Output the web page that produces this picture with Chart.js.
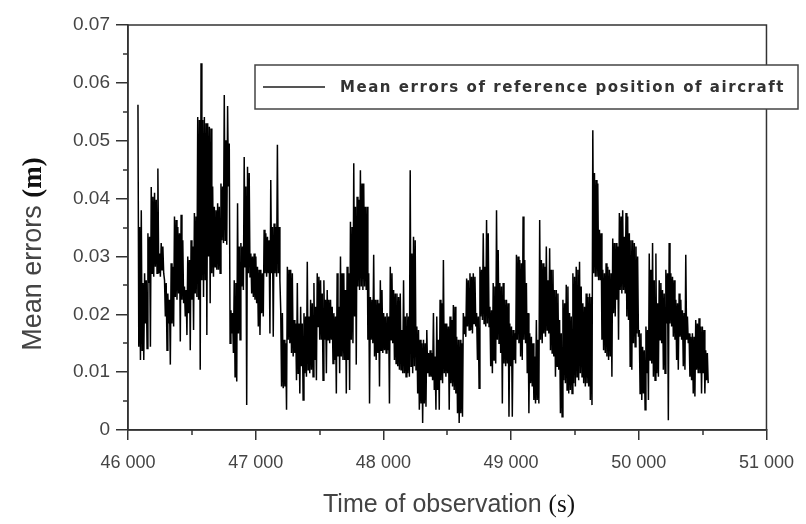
<!DOCTYPE html>
<html>
<head>
<meta charset="utf-8">
<script src="https://cdn.jsdelivr.net/npm/chart.js@4.4.0/dist/chart.umd.min.js"></script>
<style>
  html, body { margin: 0; padding: 0; background: #fff; }
</style>
</head>
<body>
<canvas id="myChart" width="806" height="524"></canvas>
<script>
// sampling of the record (s)
const firstTime = 46078;
const sampleStep = 6.5;

// mean errors (m) in time order, split in chunks of ~780 s
const errorsPart1 = [ // ~46078 - 46780
  0.0562, 0.0144, 0.0351, 0.0121, 0.0380, 0.0138, 0.0254, 0.0121,
  0.0271, 0.0184, 0.0259, 0.0141, 0.0340, 0.0254, 0.0334, 0.0144,
  0.0420, 0.0271, 0.0403, 0.0265, 0.0410, 0.0282, 0.0398, 0.0271,
  0.0452, 0.0271, 0.0305, 0.0265, 0.0323, 0.0277, 0.0317, 0.0271,
  0.0259, 0.0196, 0.0254, 0.0138, 0.0236, 0.0184, 0.0225, 0.0113,
  0.0288, 0.0184, 0.0282, 0.0179, 0.0369, 0.0230, 0.0363, 0.0225,
  0.0351, 0.0236, 0.0340, 0.0153, 0.0372, 0.0225, 0.0328, 0.0219,
  0.0248, 0.0196, 0.0242, 0.0164, 0.0300, 0.0202, 0.0294, 0.0138,
  0.0328, 0.0225, 0.0317, 0.0173, 0.0375, 0.0236, 0.0369, 0.0230,
  0.0541, 0.0225, 0.0536, 0.0104, 0.0634, 0.0259, 0.0536, 0.0230,
  0.0541, 0.0259, 0.0530, 0.0164, 0.0530, 0.0300, 0.0524, 0.0219,
  0.0521, 0.0271, 0.0421, 0.0265, 0.0386, 0.0282, 0.0380, 0.0277,
  0.0392, 0.0277, 0.0386, 0.0271, 0.0426, 0.0328, 0.0421, 0.0323,
  0.0579, 0.0328, 0.0501, 0.0320
];
const errorsPart2 = [ // ~46780 - 47560
  0.0560, 0.0421, 0.0495, 0.0150, 0.0207, 0.0167, 0.0202, 0.0133,
  0.0259, 0.0092, 0.0254, 0.0084, 0.0392, 0.0167, 0.0317, 0.0156,
  0.0323, 0.0248, 0.0317, 0.0242, 0.0472, 0.0282, 0.0421, 0.0043,
  0.0455, 0.0271, 0.0444, 0.0265, 0.0305, 0.0236, 0.0300, 0.0230,
  0.0305, 0.0225, 0.0300, 0.0219, 0.0282, 0.0179, 0.0277, 0.0164,
  0.0277, 0.0202, 0.0271, 0.0196, 0.0346, 0.0271, 0.0340, 0.0265,
  0.0334, 0.0271, 0.0328, 0.0167, 0.0432, 0.0271, 0.0351, 0.0161,
  0.0357, 0.0271, 0.0351, 0.0265, 0.0493, 0.0271, 0.0351, 0.0259,
  0.0207, 0.0075, 0.0202, 0.0072, 0.0156, 0.0075, 0.0150, 0.0035,
  0.0282, 0.0156, 0.0277, 0.0150, 0.0277, 0.0133, 0.0271, 0.0127,
  0.0190, 0.0133, 0.0184, 0.0086, 0.0254, 0.0098, 0.0184, 0.0063,
  0.0213, 0.0110, 0.0184, 0.0052, 0.0202, 0.0098, 0.0196, 0.0092,
  0.0291, 0.0104, 0.0196, 0.0098, 0.0225, 0.0104, 0.0219, 0.0092,
  0.0254, 0.0121, 0.0213, 0.0086, 0.0271, 0.0179, 0.0265, 0.0156,
  0.0259, 0.0156, 0.0236, 0.0086, 0.0259, 0.0156, 0.0225, 0.0098
];
const errorsPart3 = [ // ~47560 - 48340
  0.0242, 0.0156, 0.0225, 0.0150, 0.0225, 0.0156, 0.0213, 0.0115,
  0.0202, 0.0121, 0.0196, 0.0063, 0.0271, 0.0127, 0.0213, 0.0098,
  0.0300, 0.0127, 0.0271, 0.0121, 0.0271, 0.0121, 0.0242, 0.0063,
  0.0282, 0.0121, 0.0271, 0.0069, 0.0360, 0.0156, 0.0351, 0.0150,
  0.0461, 0.0196, 0.0386, 0.0113, 0.0403, 0.0248, 0.0398, 0.0242,
  0.0449, 0.0248, 0.0426, 0.0242, 0.0426, 0.0248, 0.0386, 0.0242,
  0.0386, 0.0156, 0.0271, 0.0046, 0.0230, 0.0156, 0.0225, 0.0150,
  0.0303, 0.0127, 0.0225, 0.0121, 0.0225, 0.0133, 0.0219, 0.0075,
  0.0259, 0.0138, 0.0242, 0.0133, 0.0202, 0.0138, 0.0196, 0.0133,
  0.0202, 0.0138, 0.0196, 0.0046, 0.0282, 0.0156, 0.0271, 0.0150,
  0.0242, 0.0121, 0.0236, 0.0115, 0.0236, 0.0110, 0.0230, 0.0104,
  0.0236, 0.0104, 0.0173, 0.0098, 0.0259, 0.0098, 0.0196, 0.0092,
  0.0202, 0.0098, 0.0196, 0.0092, 0.0449, 0.0110, 0.0305, 0.0098,
  0.0334, 0.0110, 0.0328, 0.0104, 0.0179, 0.0063, 0.0173, 0.0035,
  0.0156, 0.0046, 0.0150, 0.0012, 0.0156, 0.0046, 0.0150, 0.0040
];
const errorsPart4 = [ // ~48340 - 49120
  0.0173, 0.0098, 0.0133, 0.0092, 0.0138, 0.0092, 0.0133, 0.0086,
  0.0202, 0.0069, 0.0127, 0.0035, 0.0196, 0.0069, 0.0156, 0.0035,
  0.0225, 0.0086, 0.0219, 0.0081, 0.0294, 0.0098, 0.0184, 0.0092,
  0.0184, 0.0098, 0.0179, 0.0035, 0.0196, 0.0081, 0.0190, 0.0075,
  0.0216, 0.0069, 0.0213, 0.0063, 0.0161, 0.0029, 0.0156, 0.0012,
  0.0156, 0.0029, 0.0150, 0.0023, 0.0202, 0.0167, 0.0196, 0.0161,
  0.0262, 0.0179, 0.0259, 0.0173, 0.0271, 0.0173, 0.0265, 0.0167,
  0.0271, 0.0184, 0.0265, 0.0179, 0.0202, 0.0121, 0.0196, 0.0072,
  0.0282, 0.0196, 0.0277, 0.0190, 0.0340, 0.0184, 0.0282, 0.0179,
  0.0363, 0.0184, 0.0340, 0.0179, 0.0213, 0.0110, 0.0207, 0.0098,
  0.0254, 0.0121, 0.0248, 0.0115, 0.0380, 0.0156, 0.0311, 0.0150,
  0.0254, 0.0133, 0.0248, 0.0046, 0.0254, 0.0115, 0.0225, 0.0110,
  0.0225, 0.0115, 0.0219, 0.0023, 0.0184, 0.0110, 0.0179, 0.0023,
  0.0173, 0.0121, 0.0167, 0.0115, 0.0303, 0.0156, 0.0300, 0.0150,
  0.0294, 0.0127, 0.0288, 0.0121, 0.0369, 0.0156, 0.0294, 0.0150
];
const errorsPart5 = [ // ~49120 - 49900
  0.0254, 0.0098, 0.0202, 0.0029, 0.0167, 0.0081, 0.0161, 0.0075,
  0.0150, 0.0052, 0.0127, 0.0046, 0.0190, 0.0052, 0.0156, 0.0046,
  0.0363, 0.0156, 0.0294, 0.0150, 0.0288, 0.0167, 0.0282, 0.0161,
  0.0317, 0.0173, 0.0259, 0.0167, 0.0314, 0.0138, 0.0277, 0.0133,
  0.0277, 0.0127, 0.0242, 0.0092, 0.0242, 0.0110, 0.0236, 0.0104,
  0.0190, 0.0029, 0.0167, 0.0023, 0.0225, 0.0086, 0.0219, 0.0081,
  0.0251, 0.0069, 0.0248, 0.0063, 0.0202, 0.0069, 0.0196, 0.0063,
  0.0271, 0.0081, 0.0265, 0.0075, 0.0282, 0.0092, 0.0277, 0.0086,
  0.0291, 0.0098, 0.0248, 0.0092, 0.0219, 0.0081, 0.0213, 0.0075,
  0.0236, 0.0081, 0.0230, 0.0075, 0.0236, 0.0052, 0.0230, 0.0043,
  0.0518, 0.0271, 0.0444, 0.0265, 0.0432, 0.0265, 0.0426, 0.0259,
  0.0346, 0.0259, 0.0340, 0.0156, 0.0277, 0.0138, 0.0271, 0.0133,
  0.0288, 0.0127, 0.0282, 0.0121, 0.0277, 0.0127, 0.0271, 0.0092,
  0.0331, 0.0202, 0.0323, 0.0196, 0.0323, 0.0225, 0.0317, 0.0156,
  0.0375, 0.0242, 0.0369, 0.0236, 0.0380, 0.0242, 0.0334, 0.0236
];
const errorsPart6 = [ // ~49900 - 50545
  0.0375, 0.0196, 0.0369, 0.0190, 0.0340, 0.0110, 0.0328, 0.0104,
  0.0328, 0.0150, 0.0323, 0.0144, 0.0317, 0.0167, 0.0300, 0.0161,
  0.0173, 0.0063, 0.0167, 0.0052, 0.0144, 0.0063, 0.0138, 0.0035,
  0.0179, 0.0098, 0.0173, 0.0052, 0.0305, 0.0121, 0.0277, 0.0115,
  0.0323, 0.0092, 0.0259, 0.0086, 0.0305, 0.0098, 0.0219, 0.0092,
  0.0259, 0.0156, 0.0254, 0.0150, 0.0242, 0.0104, 0.0236, 0.0098,
  0.0277, 0.0184, 0.0271, 0.0017, 0.0323, 0.0184, 0.0271, 0.0179,
  0.0265, 0.0161, 0.0259, 0.0156, 0.0225, 0.0121, 0.0219, 0.0104,
  0.0236, 0.0161, 0.0225, 0.0156, 0.0207, 0.0110, 0.0202, 0.0104,
  0.0303, 0.0156, 0.0196, 0.0150, 0.0167, 0.0092, 0.0161, 0.0086,
  0.0167, 0.0063, 0.0161, 0.0058, 0.0190, 0.0104, 0.0184, 0.0098,
  0.0193, 0.0098, 0.0179, 0.0063, 0.0179, 0.0098, 0.0173, 0.0063,
  0.0138, 0.0086, 0.0133, 0.0081
];

// axis ticks
const xMinorTicks = [46500, 47500, 48500, 49500, 50500];
const yMinorTicks = [0.005, 0.015, 0.025, 0.035, 0.045, 0.055, 0.065];

const legendLabel = "Mean errors of reference position of aircraft";

const errors = [].concat(errorsPart1, errorsPart2, errorsPart3, errorsPart4, errorsPart5, errorsPart6);
const points = errors.map((v, i) => ({ x: firstTime + i * sampleStep, y: v }));

const axisColor = "#333";
const textColor = "#444";

// frame, minor ticks, legend box and axis titles
const decorations = {
  id: "decorations",
  afterDraw(chart) {
    const { ctx, chartArea: a, scales: { x, y } } = chart;
    ctx.save();

    // frame
    ctx.strokeStyle = axisColor;
    ctx.lineWidth = 1.5;
    ctx.strokeRect(a.left, a.top, a.right - a.left, a.bottom - a.top);

    // minor ticks
    ctx.beginPath();
    xMinorTicks.forEach((v) => {
      const px = Math.round(x.getPixelForValue(v));
      ctx.moveTo(px, a.bottom);
      ctx.lineTo(px, a.bottom + 5);
    });
    yMinorTicks.forEach((v) => {
      const py = Math.round(y.getPixelForValue(v));
      ctx.moveTo(a.left, py);
      ctx.lineTo(a.left - 5, py);
    });
    ctx.stroke();

    // legend box
    ctx.fillStyle = "#fff";
    ctx.fillRect(255, 65, 543, 44);
    ctx.strokeStyle = "#444";
    ctx.lineWidth = 1.5;
    ctx.strokeRect(255, 65, 543, 44);
    ctx.beginPath();
    ctx.strokeStyle = "#555";
    ctx.lineWidth = 2;
    ctx.moveTo(263, 87);
    ctx.lineTo(325, 87);
    ctx.stroke();
    ctx.font = 'bold 15px "DejaVu Sans"';
    const w = ctx.measureText(legendLabel).width;
    ctx.letterSpacing = ((445 - w) / legendLabel.length).toFixed(2) + "px";
    ctx.fillStyle = "#333";
    ctx.textBaseline = "middle";
    ctx.fillText(legendLabel, 340, 88);
    ctx.letterSpacing = "0px";

    // x title
    ctx.textBaseline = "alphabetic";
    ctx.font = '25px "Liberation Sans"';
    const xt1 = "Time of observation ";
    const xw1 = ctx.measureText(xt1).width;
    ctx.font = '25px "Liberation Serif"';
    const xw2 = ctx.measureText("(s)").width;
    let sx = 449 - (xw1 + xw2) / 2;
    ctx.font = '25px "Liberation Sans"';
    ctx.fillStyle = textColor;
    ctx.fillText(xt1, sx, 512);
    ctx.font = '25px "Liberation Serif"';
    ctx.fillStyle = "#111";
    ctx.fillText("(s)", sx + xw1, 512);

    // y title
    ctx.translate(41, 254);
    ctx.rotate(-Math.PI / 2);
    ctx.font = '27px "Liberation Sans"';
    const yt1 = "Mean errors ";
    const yw1 = ctx.measureText(yt1).width;
    ctx.font = 'bold 27px "Liberation Serif"';
    const yw2 = ctx.measureText("(m)").width;
    sx = -(yw1 + yw2) / 2;
    ctx.font = '27px "Liberation Sans"';
    ctx.fillStyle = textColor;
    ctx.fillText(yt1, sx, 0);
    ctx.font = 'bold 27px "Liberation Serif"';
    ctx.fillStyle = "#111";
    ctx.fillText("(m)", sx + yw1, 0);

    ctx.restore();
  }
};

const ctx = document.getElementById("myChart").getContext("2d");
const myChart = new Chart(ctx, {
  type: "line",
  data: {
    datasets: [
      {
        label: legendLabel,
        data: points,
        borderColor: "#000",
        borderWidth: 1.5,
        pointRadius: 0,
        tension: 0,
        fill: false,
      },
    ],
  },
  options: {
    responsive: false,
    animation: false,
    devicePixelRatio: 1,
    layout: { padding: { left: 0, right: 39, top: 25, bottom: 0 } },
    plugins: {
      legend: { display: false },
      tooltip: { enabled: false },
    },
    scales: {
      x: {
        type: "linear",
        min: 46000,
        max: 51000,
        afterFit: (s) => { s.height = 94; },
        ticks: {
          stepSize: 1000,
          padding: 12,
          color: textColor,
          font: { family: "Liberation Sans", size: 18 },
          callback: (v) => Math.round(v / 1000) + " 000",
        },
        grid: { drawOnChartArea: false, tickLength: 10, color: axisColor, lineWidth: 1.5 },
        border: { color: axisColor, width: 1.5 },
      },
      y: {
        min: 0,
        max: 0.07,
        afterFit: (s) => { s.width = 128; },
        ticks: {
          stepSize: 0.01,
          padding: 6,
          color: textColor,
          font: { family: "Liberation Sans", size: 19 },
          callback: (v) => (v === 0 ? "0" : v.toFixed(2)),
        },
        grid: { drawOnChartArea: false, tickLength: 12, color: axisColor, lineWidth: 1.5 },
        border: { color: axisColor, width: 1.5 },
      },
    },
  },
  plugins: [decorations],
});
</script>
</body>
</html>
